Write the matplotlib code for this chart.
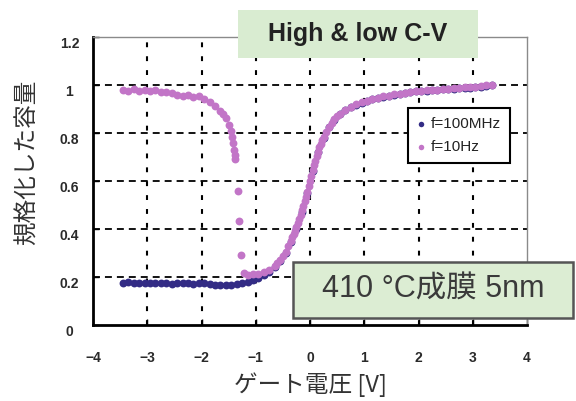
import matplotlib
matplotlib.use('Agg')
import matplotlib.pyplot as plt
from matplotlib.patches import Rectangle
from matplotlib.transforms import ScaledTranslation

plt.rcParams['font.family'] = ['Liberation Sans', 'Noto Sans CJK JP', 'DejaVu Sans']
plt.rcParams['lines.scale_dashes'] = False

# data
v_100mhz = [-3.45, -3.35, -3.25, -3.15, -3.05, -2.95, -2.85, -2.75, -2.65, -2.55,
            -2.45, -2.35, -2.25, -2.15, -2.05, -1.95, -1.85, -1.75, -1.65, -1.55,
            -1.45, -1.35, -1.25, -1.15, -1.05, -0.95, -0.85, -0.75, -0.65, -0.55,
            -0.45, -0.35, -0.25, -0.15, -0.05, 0.05, 0.15, 0.25, 0.35, 0.45,
            0.55, 0.65, 0.75, 0.85, 0.95, 1.05, 1.15, 1.25, 1.35, 1.45,
            1.55, 1.65, 1.75, 1.85, 1.95, 2.05, 2.15, 2.25, 2.35, 2.45,
            2.55, 2.65, 2.75, 2.85, 2.95, 3.05, 3.15, 3.25, 3.35]
c_100mhz = [0.175, 0.178, 0.174, 0.176, 0.175, 0.177, 0.173, 0.175, 0.176, 0.172,
            0.174, 0.176, 0.173, 0.172, 0.174, 0.175, 0.171, 0.168, 0.166, 0.165,
            0.167, 0.170, 0.174, 0.180, 0.187, 0.196, 0.207, 0.222, 0.240, 0.265,
            0.300, 0.345, 0.400, 0.470, 0.550, 0.640, 0.720, 0.780, 0.825, 0.855,
            0.878, 0.895, 0.908, 0.918, 0.927, 0.934, 0.940, 0.946, 0.951, 0.955,
            0.959, 0.963, 0.967, 0.970, 0.973, 0.975, 0.977, 0.979, 0.981, 0.982,
            0.984, 0.985, 0.987, 0.988, 0.989, 0.991, 0.993, 0.996, 1.000]

v_10hz = [-3.45, -3.35, -3.25, -3.15, -3.05, -2.95, -2.85, -2.75, -2.65, -2.55,
          -2.45, -2.35, -2.25, -2.15, -2.05, -1.95, -1.85, -1.75, -1.65, -1.60,
          -1.55, -1.49, -1.45, -1.43, -1.415, -1.40, -1.39, -1.38, -1.33, -1.31,
          -1.27, -1.22, -1.15, -1.05, -0.95, -0.85, -0.75, -0.65, -0.60, -0.55,
          -0.50, -0.45, -0.40, -0.35, -0.325, -0.30, -0.275, -0.25, -0.225, -0.20,
          -0.175, -0.15, -0.125, -0.10, -0.075, -0.05, -0.025, 0.00, 0.025, 0.05,
          0.075, 0.10, 0.125, 0.15, 0.175, 0.20, 0.225, 0.25, 0.30, 0.35,
          0.40, 0.45, 0.50, 0.55, 0.65, 0.75, 0.85, 0.95, 1.05, 1.15,
          1.25, 1.35, 1.45, 1.55, 1.65, 1.75, 1.85, 1.95, 2.05, 2.15,
          2.25, 2.35, 2.45, 2.55, 2.65, 2.75, 2.85, 2.95, 3.05, 3.15,
          3.25, 3.35]
c_10hz = [0.980, 0.977, 0.982, 0.975, 0.979, 0.974, 0.978, 0.971, 0.969, 0.966,
          0.958, 0.954, 0.957, 0.949, 0.953, 0.942, 0.928, 0.912, 0.893, 0.878,
          0.862, 0.835, 0.810, 0.785, 0.757, 0.730, 0.710, 0.690, 0.560, 0.435,
          0.290, 0.215, 0.208, 0.212, 0.214, 0.220, 0.230, 0.247, 0.258, 0.272,
          0.288, 0.306, 0.328, 0.352, 0.365, 0.378, 0.392, 0.408, 0.424, 0.440,
          0.458, 0.478, 0.496, 0.515, 0.535, 0.556, 0.578, 0.600, 0.622, 0.645,
          0.665, 0.685, 0.705, 0.722, 0.740, 0.755, 0.770, 0.783, 0.806, 0.827,
          0.843, 0.858, 0.869, 0.879, 0.897, 0.910, 0.919, 0.929, 0.935, 0.942,
          0.947, 0.953, 0.956, 0.961, 0.964, 0.968, 0.972, 0.974, 0.977, 0.978,
          0.981, 0.980, 0.984, 0.985, 0.987, 0.986, 0.990, 0.991, 0.993, 0.995,
          0.998, 1.002]

x_ticks = [-4, -3, -2, -1, 0, 1, 2, 3, 4]
x_tick_labels = ['\u22124', '\u22123', '\u22122', '\u22121', '0', '1', '2', '3', '4']
y_ticks = [0, 0.2, 0.4, 0.6, 0.8, 1.0, 1.2]
y_tick_labels = ['0', '0.2', '0.4', '0.6', '0.8', '1', '1.2']

W, H = 576, 401
fig = plt.figure(figsize=(W / 100, H / 100), dpi=100)
ax = fig.add_axes([93 / W, 1 - 325 / H, (527 - 93) / W, (325 - 37) / H])

ax.scatter(v_100mhz, c_100mhz, s=32, color='#332c85', linewidths=0, label='f=100MHz', zorder=3)
ax.scatter(v_10hz, c_10hz, s=32, color='#c275c7', linewidths=0, label='f=10Hz', zorder=4)

ax.set_xlim(-4, 4)
ax.set_ylim(0, 1.2)
ax.set_xticks(x_ticks)
ax.set_xticklabels(x_tick_labels)
ax.set_yticks(y_ticks)
ax.set_yticklabels(y_tick_labels)

# grid: long dashes across, short dashes up
for y in y_ticks[1:-1]:
    ax.axhline(y, color='black', lw=1.3, dashes=(5, 3.6), zorder=1)
for x in x_ticks[1:-1]:
    ax.axvline(x, color='black', lw=1.5, dashes=(3.5, 6.5), zorder=1)

for side in ['left', 'bottom']:
    ax.spines[side].set_linewidth(2)
    ax.spines[side].set_color('black')
for side in ['top', 'right']:
    ax.spines[side].set_linewidth(1)
    ax.spines[side].set_color('#8a8a8a')

ax.tick_params(direction='in', length=4, width=1, colors='black')
ax.tick_params(axis='x', pad=19, labelsize=10, labelcolor='#2a2a2a')
ax.tick_params(axis='y', pad=17, labelsize=10, labelcolor='#2a2a2a')
shift = ScaledTranslation(0, -6 / 100, fig.dpi_scale_trans)
for lab in ax.get_yticklabels():
    lab.set_horizontalalignment('center')
    lab.set_fontweight('bold')
    lab.set_transform(lab.get_transform() + shift)
for lab in ax.get_xticklabels():
    lab.set_fontweight('bold')

leg = ax.legend(loc='upper left', bbox_to_anchor=(408 / W, 1 - 108 / H),
                bbox_transform=fig.transFigure, borderaxespad=0,
                fontsize=11, handlelength=0.5, handletextpad=0.4,
                borderpad=0.6, labelspacing=0.55, fancybox=False,
                markerscale=0.7, framealpha=1)
leg.get_frame().set_edgecolor('black')
leg.get_frame().set_linewidth(1.5)
for t in leg.get_texts():
    t.set_color('#222222')
leg.set_zorder(6)

fig.text(27 / W, 1 - 162 / H, '規格化した容量', rotation=90, ha='center', va='center',
         fontsize=17, color='#333333', family=['Noto Sans CJK JP', 'DejaVu Sans'])
fig.text(310 / W, 1 - 385 / H, 'ゲート電圧 [V]', ha='center', va='center',
         fontsize=17, color='#333333', family=['Noto Sans CJK JP', 'DejaVu Sans'])

# title box
fig.patches.append(Rectangle((238 / W, 1 - 58 / H), 240 / W, 48 / H, transform=fig.transFigure,
                             facecolor='#d9ecd1', edgecolor='none', zorder=5))
fig.text(358 / W, 1 - 34 / H, 'High & low C-V', ha='center', va='center',
         fontsize=18, fontweight='bold', color='#222222', zorder=6)

# annotation box
fig.patches.append(Rectangle((293 / W, 1 - 318 / H), 280 / W, 56 / H, transform=fig.transFigure,
                             facecolor='#dcedd3', edgecolor='#555555', linewidth=1.8, zorder=5))
fig.text(433 / W, 1 - 290 / H, '410 °C成膜 5nm', ha='center', va='center',
         fontsize=22, color='#3a3a3a', zorder=6,
         family=['Liberation Sans', 'Noto Sans CJK JP'])

fig.savefig('out.png', dpi=100)
